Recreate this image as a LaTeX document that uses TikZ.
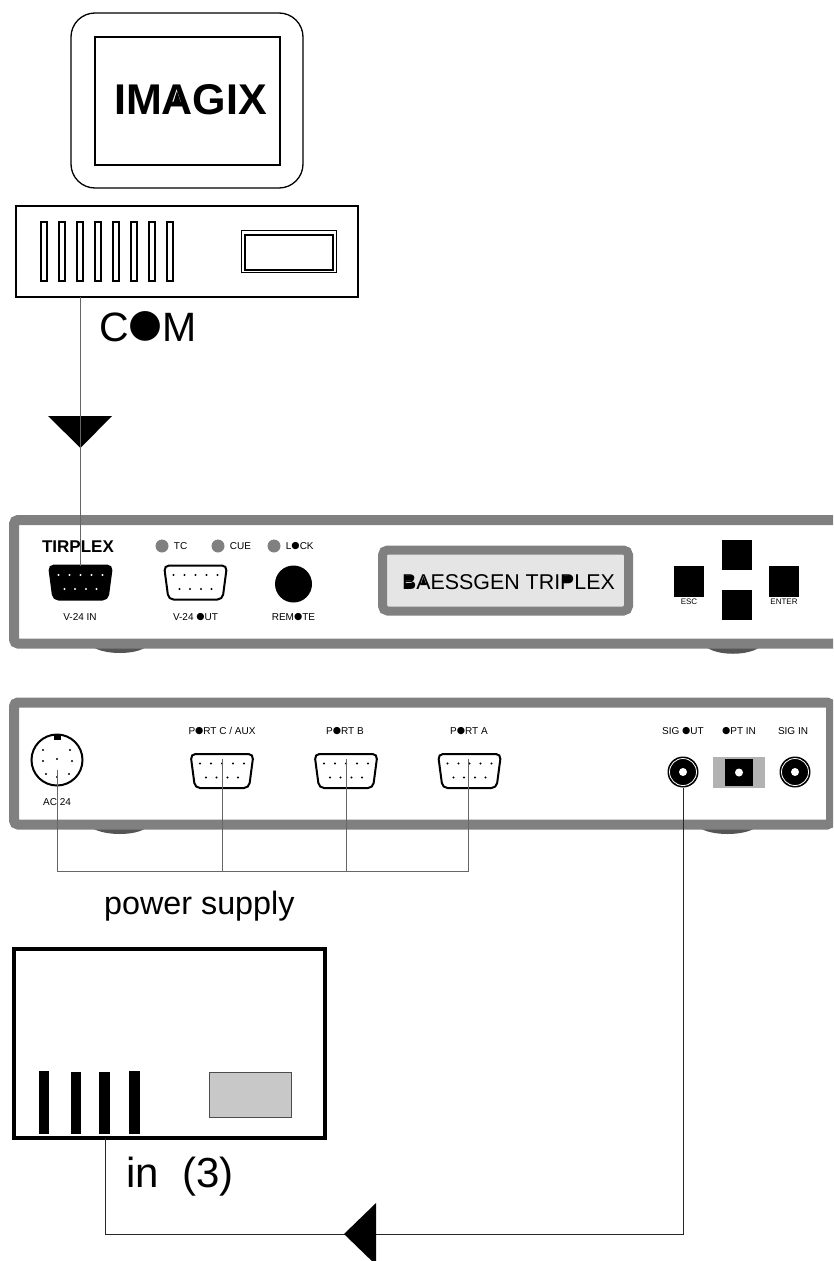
\documentclass[tikz,border=0pt]{standalone}
\usepackage{fontspec}
\usepackage{graphicx}
\usepackage{xcolor}
\usepackage{tikz}
\usetikzlibrary{positioning}
\setmainfont{Liberation Sans}
\newfontfamily\symfont{DejaVu Sans}
\newcommand{\px}[1]{\fontsize{#1}{#1}\selectfont}
\newcommand{\fo}{\raisebox{.1em}{\scalebox{.95}{\symfont ●}}}
\definecolor{panelgray}{HTML}{808080}
\definecolor{footgray}{HTML}{555555}
\definecolor{lcdgray}{HTML}{E5E5E5}
\definecolor{optgray}{HTML}{B2B2B2}
\definecolor{slotgray}{HTML}{C8C8C8}
\tikzset{
    box/.style={draw=black, fill=white, inner sep=0, outer sep=0},
    solid box/.style={fill=black, inner sep=0, outer sep=0},
    slotbox/.style={box, line width=1.3, minimum width=6, minimum height=59},
    btn/.style={solid box, minimum width=30, minimum height=30},
    bar/.style={solid box, minimum width=11, minimum height=63},
    led/.style={circle, fill=panelgray, inner sep=0, minimum size=13},
    tag/.style={font=\px{10}, inner sep=0},
    wire/.style={draw=black!60, line width=1},
    comwire/.style={draw=black!60, line width=1.4},
    sigwire/.style={draw=black!85, line width=1},
    panel/.style={draw=panelgray, line width=10, rounded corners=4},
    pics/dsub/.style 2 args={code={
        \path[draw=black, line width=2, fill=#1, rounded corners=5]
            (-31.5,-17) -- (31.5,-17) -- (27,17) -- (-27,17) -- cycle;
        \fill[#2] (-22,-7.5) circle (1.2) (-11,-7.5) circle (1.2) (0,-7.5) circle (1.2)
            (11,-7.5) circle (1.2) (22,-7.5) circle (1.2)
            (-16,6.5) circle (1.2) (-5.5,6.5) circle (1.2) (5.5,6.5) circle (1.2) (16,6.5) circle (1.2);
        \coordinate (-wire) at (0,-17);
        \coordinate (-pin) at (0,-12);
    }},
    pics/coax/.style={code={
        \fill[black] (0,0) circle (15.5);
        \draw[white, line width=0.8] (0,0) circle (13.5);
        \fill[white] (0,0) circle (4);
        \coordinate (-wire) at (0,15.5);
    }}
}
\begin{document}
\begin{tikzpicture}[x=1pt, y=-1pt]
    \useasboundingbox (0,0) rectangle (833,1261);
    \clip (0,0) rectangle (833,1261);

    % computer
    \node[box, line width=1.3, rounded corners=24, minimum width=232, minimum height=175] (monitor) at (187,100.5) {};
    \node[box, line width=1.3, minimum width=185, minimum height=128] (screen) at (187.5,101) {};
    \node[font=\bfseries\px{43}, inner sep=0] (imagix) at (190.5,100) {IMAGIX};
    \fill[black] (177,91) -- (172.5,105) -- (181.5,105) -- cycle;
    \node[box, line width=1.5, minimum width=342, minimum height=91] (pc) at (187,251.5) {};
    \node[slotbox] (s1) at (44,251.5) {};
    \node[slotbox, right=12 of s1] (s2) {};
    \node[slotbox, right=12 of s2] (s3) {};
    \node[slotbox, right=12 of s3] (s4) {};
    \node[slotbox, right=12 of s4] (s5) {};
    \node[slotbox, right=12 of s5] (s6) {};
    \node[slotbox, right=12 of s6] (s7) {};
    \node[slotbox, right=12 of s7] (s8) {};
    \node[box, line width=0.8, minimum width=95, minimum height=42] (drive) at (288.5,251) {};
    \node[box, line width=1.3, minimum width=88, minimum height=35] (slot) at (289,252.5) {};
    \node[font=\px{41}, inner sep=0, anchor=base west] (com) at (99,341) {C\fo M};

    % front panel
    \fill[footgray] (93,647) .. controls (105,655) and (135,655) .. (146,647) -- cycle;
    \fill[footgray] (706,647) .. controls (718,656) and (748,656) .. (760,647) -- cycle;
    \draw[panel] (14,520) rectangle (850,643.5);
    \node[font=\bfseries\px{17}, inner sep=0] (tirplex) at (78,547) {TIRPLEX};
    \pic (v24in) at (80.5,582.5) {dsub={black}{white}};
    \pic (v24out) at (195.5,582.5) {dsub={white}{black}};
    \node[tag] (v24inlabel) at (80,617) {V-24 IN};
    \node[tag] (v24outlabel) at (195.5,617) {V-24 \fo UT};
    \node[led] (tc) at (162,546) {};
    \node[led] (cue) at (218,546) {};
    \node[led] (lock) at (274,546) {};
    \node[tag, right=5 of tc] {TC};
    \node[tag, right=5 of cue] {CUE};
    \node[tag, right=5 of lock] {L\fo CK};
    \node[circle, fill=black, inner sep=0, minimum size=37] (remote) at (293.5,584) {};
    \node[tag] (remotelabel) at (293.5,617) {REM\fo TE};
    \node[draw=panelgray, fill=lcdgray, line width=9, rounded corners=5, inner sep=0, minimum width=246, minimum height=61] (lcd) at (505.5,580.5) {};
    \node[font=\px{21.4}, inner sep=0] (lcdtext) at (508.5,582) {BAESSGEN TRIPLEX};
    \fill[black] (405,576) rectangle (413,580.5) (405,583) rectangle (414,588);
    \fill[black] (423.5,577) -- (420.5,585) -- (426.5,585) -- cycle;
    \fill[black] (562.5,575.8) rectangle (571,582);
    \node[btn] (up) at (737,555) {};
    \node[btn] (down) at (737,605) {};
    \node[btn, minimum height=31] (esc) at (689,581.5) {};
    \node[btn, minimum height=31] (enter) at (784,581.5) {};
    \node[tag, font=\px{8}, below=2pt of esc] {ESC};
    \node[tag, font=\px{8}, below=2pt of enter] {ENTER};

    % rear panel
    \fill[footgray] (92,828) .. controls (105,836) and (135,836) .. (146,828) -- cycle;
    \fill[footgray] (700,828) .. controls (712,836) and (743,836) .. (755,828) -- cycle;
    \draw[panel] (14,702.5) rectangle (831,824.5);
    \node[draw=black, fill=white, line width=2, circle, inner sep=0, minimum size=51] (ac24) at (57,760) {};
    \fill[black] (54,735) rectangle (61,740);
    \fill[black] (43,750) circle (1.2) (70,750) circle (1.2) (43,761) circle (1.2) (57,759) circle (1.2)
        (72,761) circle (1.2) (46,774) circle (1.2) (69,774) circle (1.2) (57,777) circle (1.2);
    \coordinate (acpin) at (57.5,770);
    \node[tag] (ac24label) at (57,802) {AC 24};
    \pic (portC) at (222,771) {dsub={white}{black}};
    \pic (portB) at (346,771) {dsub={white}{black}};
    \pic (portA) at (469.5,771) {dsub={white}{black}};
    \node[tag] at (222,731) {P\fo RT C / AUX};
    \node[tag] at (345,731) {P\fo RT B};
    \node[tag] at (469,731) {P\fo RT A};
    \pic (sigout) at (683,772) {coax};
    \node[fill=optgray, inner sep=0, minimum width=52, minimum height=31] (optback) at (739,772.5) {};
    \node[btn, minimum width=28, minimum height=27] (optin) at (739,772.5) {};
    \fill[white] (optin.center) circle (4);
    \pic (sigin) at (795,772) {coax};
    \node[tag] at (683,731) {SIG \fo UT};
    \node[tag] at (739,731) {\fo PT IN};
    \node[tag] at (793,731) {SIG IN};

    % power wires
    \coordinate (busA) at (468,871);
    \coordinate (busAC) at (57.5,871);
    \draw[wire] (acpin) -- (busAC) -- (busA) -- (busA |- portA-pin);
    \draw[wire] (portC-pin) -- (portC-pin |- busA);
    \draw[wire] (portB-pin) -- (portB-pin |- busA);
    \node[font=\px{32.3}, inner sep=0, anchor=base west] (power) at (104,914) {power supply};

    % receiver
    \node[box, line width=3.5, minimum width=311, minimum height=189] (rx) at (169.5,1043.5) {};
    \node[bar, minimum width=10] (b1) at (44,1102.5) {};
    \node[bar, minimum width=10, minimum height=62] (b2) at (76,1103) {};
    \node[bar, minimum height=62] (b3) at (104.5,1103) {};
    \node[bar] (b4) at (134.5,1102.5) {};
    \node[draw=black!70, fill=slotgray, line width=1, inner sep=0, minimum width=82, minimum height=45] (rxslot) at (250.5,1095) {};
    \node[font=\px{42}, inner sep=0, anchor=base west] (inlabel) at (126,1187) {in\ \ (3)};

    % com and signal lines
    \coordinate (sigcorner) at (683,1234);
    \coordinate (rxcorner) at (105,1234);
    \draw[comwire] (v24in-wire |- pc.south) -- (v24in-wire);
    \draw[sigwire] (sigout-wire) -- (sigcorner) -- (rxcorner) -- (rxcorner |- rx.south);
    \fill[black] (48,416) -- (112,416) -- (80.5,448) -- cycle;
    \draw[comwire] (80.5,416) -- (v24in-wire);
    \fill[black] (344,1234) -- (376,1203) -- (376,1265) -- cycle;
\end{tikzpicture}
\end{document}
